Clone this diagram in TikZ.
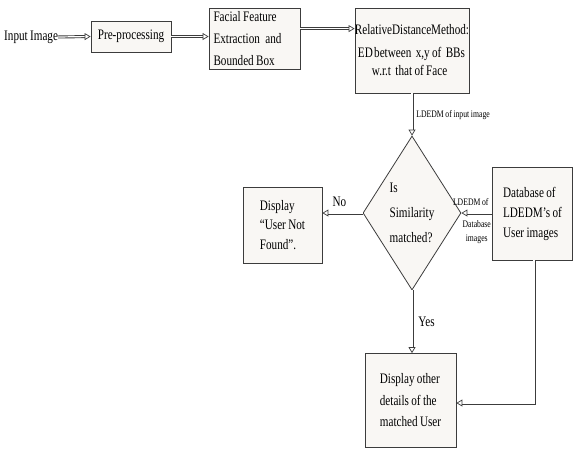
\documentclass[tikz,border=0pt]{standalone}
\usepackage{fontspec}
\setmainfont{Liberation Serif}[FakeStretch=0.77,WordSpace=0.85]
\usetikzlibrary{shapes.geometric,arrows.meta,calc}
\definecolor{boxfill}{RGB}{249,247,244}
\definecolor{edge}{RGB}{60,60,60}
\begin{document}
\begin{tikzpicture}[x=1pt,y=-1pt,
  box/.style={draw=edge, line width=0.8pt, fill=boxfill, rectangle, inner sep=0pt, align=left},
  big/.style={font=\fontsize{14.5}{#1}\selectfont},
  big/.default=21,
  small/.style={font=\fontsize{10}{14}\selectfont, inner sep=0pt},
  dbl/.style={draw=edge, line width=0.9pt, double=white, double distance=1.2pt,
    -{Triangle[open,length=6pt,width=7pt,line width=0.7pt]}}]
\useasboundingbox (0,0) rectangle (573,448);

\node[big, anchor=west, inner sep=0pt] (in) at (4,37) {Input Image};
\node[box, big, minimum width=80pt, minimum height=31pt] (pre) at (131,36.5) {Pre-processing};
\node[box, big=22, minimum width=91pt, minimum height=61pt] (ffe) at (254.5,38.5)
  {Facial Feature\\\makebox[82pt][l]{Extraction\hspace{3pt} and}\\Bounded Box};
\node[box, big=21, minimum width=114pt, minimum height=85pt] (rdm) at (412,50.5)
  {RelativeDistanceMethod:\\[2pt]\hspace*{3pt}ED\hspace{-1pt} between\hspace{2pt} x,y of\hspace{2pt} BBs\\[-3pt]\hspace*{17pt}w.r.t\hspace{2pt} that of Face};
\node[diamond, draw=edge, line width=0.8pt, fill=boxfill, aspect=0.636, minimum width=98pt,
  minimum height=154pt, inner sep=0pt, big=25, align=left] (dia) at (412,213)
  {Is\\Similarity\\matched?};
\node[box, big=20, minimum width=80pt, minimum height=93pt] (db) at (532.5,213.5)
  {Database of\\LDEDM's of\\User images};
\node[box, big=19.5, minimum width=79pt, minimum height=76pt] (nf) at (282.5,225)
  {Display\\``User Not\\Found''.};
\node[box, big=21.5, minimum width=91pt, minimum height=94pt] (bot) at (410.5,400.5)
  {Display other\\details of the\\matched User};

\draw[dbl] (in.east) -- (pre.west);
\draw[dbl] (pre.east) -- (pre.east -| ffe.west);
\draw[dbl] ([yshift=-21pt]ffe.north east) -- ([yshift=-21pt]ffe.north east -| rdm.west);
\draw[dbl] (rdm.south) -- node[small, anchor=west, xshift=4pt, yshift=-1pt]{LDEDM of input image} (dia.north);
\draw[dbl] (db.west |- dia.east) -- node[small, above=7pt, xshift=-6pt]{LDEDM of}
  node[small, below=7pt, align=center]{Database\\images} (dia.east);
\draw[dbl] (dia.west) -- node[big, above=6pt, inner sep=0pt, xshift=-3pt]{No} (dia.west -| nf.east);
\draw[dbl] (dia.south) -- node[big, right=6pt, inner sep=0pt]{Yes} (dia.south |- bot.north);
\draw[dbl] ([xshift=1.5pt]db.south) |- ([yshift=-2.5pt]bot.east);
\end{tikzpicture}
\end{document}
